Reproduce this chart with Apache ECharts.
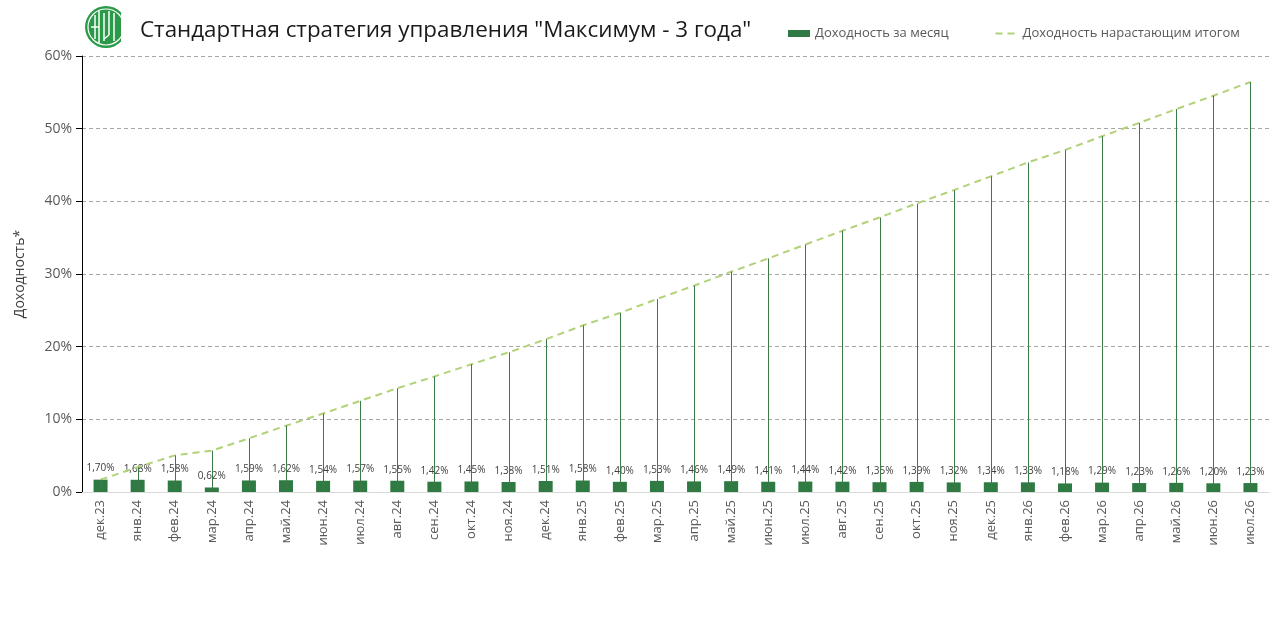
<!DOCTYPE html>
<html>
<head>
<meta charset="utf-8">
<script src="https://cdn.jsdelivr.net/npm/echarts@6/dist/echarts.min.js"></script>
<style>
  html, body { margin: 0; padding: 0; background: #fff; }
  #chart { width: 1280px; height: 632px; }
</style>
</head>
<body>
<div id="chart"></div>
<script>
// months, Dec 2023 - Jul 2026
const categories = [
  'дек.23', 'янв.24', 'фев.24', 'мар.24', 'апр.24', 'май.24', 'июн.24', 'июл.24',
  'авг.24', 'сен.24', 'окт.24', 'ноя.24', 'дек.24', 'янв.25', 'фев.25', 'мар.25',
  'апр.25', 'май.25', 'июн.25', 'июл.25', 'авг.25', 'сен.25', 'окт.25', 'ноя.25',
  'дек.25', 'янв.26', 'фев.26', 'мар.26', 'апр.26', 'май.26', 'июн.26', 'июл.26'
];

// monthly return, %
const monthly = [
  1.70, 1.68, 1.58, 0.62, 1.59, 1.62, 1.54, 1.57,
  1.55, 1.42, 1.45, 1.38, 1.51, 1.58, 1.40, 1.53,
  1.46, 1.49, 1.41, 1.44, 1.42, 1.35, 1.39, 1.32,
  1.34, 1.33, 1.18, 1.29, 1.23, 1.26, 1.20, 1.23
];

// running total, %
const cumulative = [
  1.70, 3.41, 5.04, 5.69, 7.38, 9.12, 10.80, 12.54,
  14.28, 15.90, 17.58, 19.21, 21.01, 22.92, 24.64, 26.55,
  28.39, 30.31, 32.14, 34.05, 35.95, 37.78, 39.70, 41.54,
  43.44, 45.35, 47.06, 48.96, 50.79, 52.69, 54.53, 56.43
];

const yTicks = [0, 10, 20, 30, 40, 50, 60];

const chart = echarts.init(document.getElementById('chart'));
const font = '"Open Sans", "Noto Sans", sans-serif';

const option = {
  animation: false,
  textStyle: { fontFamily: font },
  grid: { left: 82, right: 11, top: 56, bottom: 140, containLabel: false },
  legend: {
    left: 783,
    top: 22,
    itemWidth: 22,
    itemHeight: 7,
    itemGap: 46,
    textStyle: { fontSize: 13, color: '#595959', fontFamily: font },
    data: [
      { name: 'Доходность за месяц', icon: 'rect' },
      { name: 'Доходность нарастающим итогом', itemStyle: { opacity: 0 } }
    ]
  },
  graphic: [
    {
      type: 'group',
      left: 85,
      top: 6,
      children: [
        { type: 'circle', shape: { cx: 21, cy: 22, r: 21 }, style: { fill: '#2a9a48' } },
        { type: 'circle', shape: { cx: 21, cy: 22, r: 18 }, style: { fill: 'none', stroke: '#fff', lineWidth: 1.2 } },
        { type: 'rect', shape: { x: 36, y: 8, width: 8, height: 28 }, style: { fill: '#fff' } },
        { type: 'line', shape: { x1: 10, y1: 10, x2: 10, y2: 34 }, style: { stroke: '#fff', lineWidth: 1.5 } },
        { type: 'line', shape: { x1: 14, y1: 6, x2: 14, y2: 38 }, style: { stroke: '#fff', lineWidth: 1.5 } },
        { type: 'line', shape: { x1: 19, y1: 8, x2: 19, y2: 36 }, style: { stroke: '#fff', lineWidth: 1.5 } },
        { type: 'line', shape: { x1: 24, y1: 6, x2: 24, y2: 30 }, style: { stroke: '#fff', lineWidth: 1.5 } },
        { type: 'line', shape: { x1: 29, y1: 8, x2: 29, y2: 36 }, style: { stroke: '#fff', lineWidth: 1.5 } },
        { type: 'line', shape: { x1: 6, y1: 22, x2: 14, y2: 22 }, style: { stroke: '#fff', lineWidth: 1.5 } },
        { type: 'line', shape: { x1: 24, y1: 30, x2: 19, y2: 34 }, style: { stroke: '#fff', lineWidth: 1.5 } }
      ]
    },
    {
      type: 'text',
      left: 140,
      top: 20,
      style: {
        text: 'Стандартная стратегия управления "Максимум - 3 года"',
        fontSize: 22.4,
        fontFamily: font,
        fill: '#1a1a1a'
      }
    }
  ],
  xAxis: {
    type: 'category',
    data: categories,
    axisLine: { lineStyle: { color: '#d9d9d9', width: 1 } },
    axisTick: { show: false },
    axisLabel: { rotate: 90, margin: 8, fontSize: 13, color: '#595959' }
  },
  yAxis: {
    type: 'value',
    min: yTicks[0],
    max: yTicks[yTicks.length - 1],
    interval: 10,
    name: 'Доходность*',
    nameLocation: 'middle',
    nameGap: 55,
    nameTextStyle: { fontSize: 14, color: '#404040' },
    axisLine: { show: true, lineStyle: { color: '#000', width: 1 } },
    axisTick: { show: true, length: 6, lineStyle: { color: '#000' } },
    axisLabel: { fontSize: 14, color: '#595959', margin: 10, formatter: v => v + '%' },
    splitLine: { lineStyle: { color: '#a6a6a6', type: [4, 3], width: 1 } }
  },
  series: [
    {
      name: 'Доходность за месяц',
      type: 'bar',
      data: monthly,
      barWidth: 14,
      itemStyle: { color: '#2f7a42' },
      z: 2,
      label: {
        show: true,
        position: 'top',
        distance: 6,
        fontSize: 10,
        color: '#404040',
        formatter: p => p.value.toFixed(2).replace('.', ',') + '%'
      }
    },
    {
      name: 'Доходность нарастающим итогом',
      type: 'line',
      data: cumulative,
      symbol: 'none',
      z: 4,
      itemStyle: { color: '#b2d178' },
      lineStyle: { color: '#b2d178', width: 2, type: [7, 5] }
    },
    {
      name: 'drop',
      type: 'custom',
      data: cumulative.map((v, i) => [i, v]),
      z: 5,
      silent: true,
      renderItem: (params, api) => {
        const top = api.coord([api.value(0), api.value(1)]);
        const bottom = api.coord([api.value(0), 0]);
        return {
          type: 'line',
          shape: { x1: Math.round(top[0]) + 0.5, y1: top[1], x2: Math.round(bottom[0]) + 0.5, y2: bottom[1] },
          style: { stroke: '#3b7a48', lineWidth: 1 }
        };
      },
      encode: { x: 0, y: 1 }
    }
  ]
};

chart.setOption(option);
</script>
</body>
</html>
